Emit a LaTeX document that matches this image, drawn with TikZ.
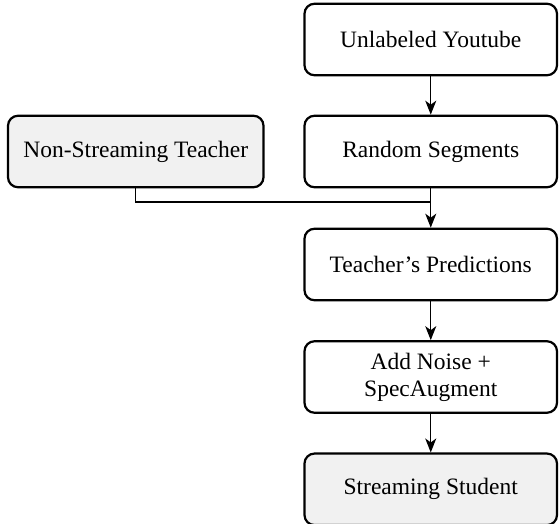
\documentclass[tikz,border=0pt]{standalone}
\usepackage{fontspec}
\setmainfont{Liberation Serif}
\usetikzlibrary{arrows.meta,positioning,calc}
\definecolor{boxfill}{gray}{0.945}
\tikzset{
  flowbox/.style={draw=black, line width=2.2pt, rounded corners=10pt,
    minimum width=252.5pt, minimum height=71.5pt, align=center,
    inner sep=2pt, font=\fontsize{23.5}{27}\selectfont},
  modelbox/.style={flowbox, fill=boxfill},
  conn/.style={draw=black, line width=1.3pt},
  arr/.style={conn, -{Stealth[length=14pt,width=11pt,inset=4pt]}}
}
\begin{document}
\begin{tikzpicture}[x=1pt,y=-1pt]
\useasboundingbox (0,0) rectangle (559,524);
\node[flowbox] (yt) at (430.75,39.5) {Unlabeled Youtube};
\node[flowbox] (rs) at (430.75,151.5) {Random Segments};
\node[modelbox, minimum width=255.5pt] (nst) at (135.75,151.5) {Non-Streaming Teacher};
\node[flowbox] (tp) at (430.75,264.5) {Teacher's Predictions};
\node[flowbox] (an) at (430.75,377) {Add Noise +\\SpecAugment};
\node[modelbox] (ss) at (430.75,489.3) {Streaming Student};
\coordinate (j) at ($(rs.south)!0.35!(tp.north)$);
\draw[arr] (yt) -- (rs);
\draw[arr] (rs) -- (tp);
\draw[conn] (nst.south) |- (j);
\draw[arr] (tp) -- (an);
\draw[arr] (an) -- (ss);
\end{tikzpicture}
\end{document}
